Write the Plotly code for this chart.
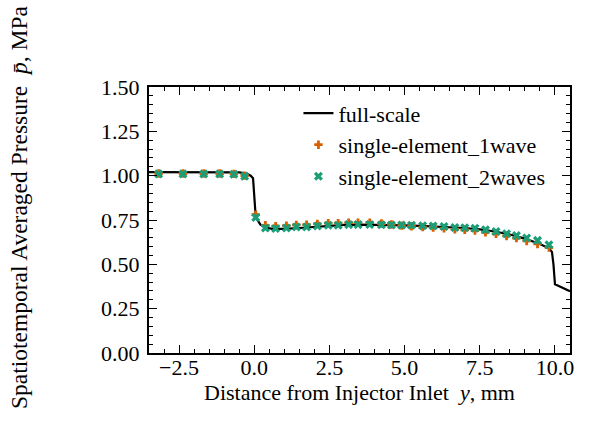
import plotly.graph_objects as go

# ---- data ----
full_x = [-3.5, -2.0, -1.0, -0.5, -0.25, -0.12, -0.04, 0.0, 0.05, 0.2, 0.35, 0.6, 1.0, 1.5,
          2.0, 2.5, 3.0, 3.5, 4.0, 4.5, 5.0, 5.5, 6.0, 6.5, 7.0, 7.5, 8.0, 8.5, 9.0,
          9.5, 9.8, 9.9, 9.95, 10.0, 10.5]
full_y = [1.02, 1.02, 1.02, 1.018, 1.012, 1.0, 0.985, 0.85, 0.765, 0.725, 0.708, 0.70,
          0.70, 0.705, 0.712, 0.718, 0.722, 0.724, 0.724, 0.722, 0.72, 0.717, 0.714,
          0.71, 0.705, 0.697, 0.685, 0.668, 0.645, 0.615, 0.59, 0.57, 0.50, 0.387, 0.348]

pos_x = [-3.18, -2.37, -1.68, -1.15, -0.68, -0.32, 0.05, 0.37, 0.71, 1.07, 1.40, 1.74,
         2.10, 2.46, 2.79, 3.14, 3.45, 3.84, 4.23, 4.56, 4.90, 5.23, 5.60, 5.95, 6.31,
         6.67, 7.00, 7.34, 7.69, 8.04, 8.39, 8.72, 9.06, 9.42, 9.80]

wave1_y = [1.012, 1.012, 1.012, 1.012, 1.01, 1.0, 0.78, 0.72, 0.715, 0.718, 0.722, 0.724,
           0.728, 0.732, 0.732, 0.735, 0.735, 0.735, 0.73, 0.725, 0.718, 0.715, 0.71,
           0.708, 0.703, 0.698, 0.695, 0.69, 0.68, 0.672, 0.66, 0.648, 0.632, 0.615, 0.595]
wave2_y = [1.01, 1.01, 1.01, 1.01, 1.008, 0.997, 0.764, 0.705, 0.702, 0.705, 0.71, 0.71,
           0.716, 0.72, 0.72, 0.724, 0.724, 0.725, 0.723, 0.722, 0.721, 0.72, 0.718,
           0.716, 0.713, 0.708, 0.706, 0.703, 0.695, 0.685, 0.672, 0.662, 0.648, 0.635, 0.61]

names = ["full-scale", "single-element_1wave", "single-element_2waves"]
y_title = "Spatiotemporal Averaged Pressure  <i>p\u0304</i>, MPa"
x_title = "Distance from Injector Inlet  <i>y</i>, mm"
FONT = "Liberation Serif, Times New Roman, serif"
FS = 22

fig = go.Figure()
fig.add_trace(go.Scatter(x=full_x, y=full_y, mode="lines", name=names[0],
                         line=dict(color="black", width=2.2)))
fig.add_trace(go.Scatter(x=pos_x, y=wave1_y, mode="markers", name=names[1],
                         marker=dict(symbol="cross", size=7, color="#d95f02", line=dict(width=0))))
fig.add_trace(go.Scatter(x=pos_x, y=wave2_y, mode="markers", name=names[2],
                         marker=dict(symbol="x", size=8, color="#1b9e77", line=dict(width=0))))

axis_common = dict(
    showline=True, linecolor="black", linewidth=2, mirror="allticks",
    ticks="inside", ticklen=8, tickwidth=1.3, tickcolor="black",
    showgrid=False, zeroline=False,
    tickfont=dict(family=FONT, size=FS, color="black"),
)

fig.update_xaxes(range=[-3.5, 10.5], tick0=0, dtick=2.5, tickformat=".1f",
                 minor=dict(dtick=0.5, ticks="inside", ticklen=4, tickwidth=1.2, tickcolor="black"),
                 ticklabelstandoff=-6,
                 title=dict(text=x_title,
                            font=dict(family=FONT, size=FS, color="black"), standoff=0),
                 **axis_common)
fig.update_yaxes(range=[0, 1.5], tick0=0, dtick=0.25, tickformat=".2f",
                 minor=dict(dtick=0.05, ticks="inside", ticklen=4, tickwidth=1.2, tickcolor="black"),
                 ticklabelstandoff=3,
                 **axis_common)

# y-axis title placed as rotated text to match the reference position
fig.add_annotation(text=y_title, xref="paper", yref="paper",
                   x=(19 - 149) / 421, y=(353 - 208) / 266,
                   xanchor="center", yanchor="middle", textangle=-90, showarrow=False,
                   font=dict(family=FONT, size=23.5, color="black"))

fig.update_layout(
    width=589, height=421,
    margin=dict(l=149, r=19, t=87, b=68),
    paper_bgcolor="white", plot_bgcolor="white",
    font=dict(family=FONT, size=FS, color="black"),
    legend=dict(x=0.355, y=0.98, xanchor="left", yanchor="top",
                bgcolor="rgba(0,0,0,0)", borderwidth=0,
                font=dict(family=FONT, size=FS, color="black")),
)

fig.write_html("out.html")
